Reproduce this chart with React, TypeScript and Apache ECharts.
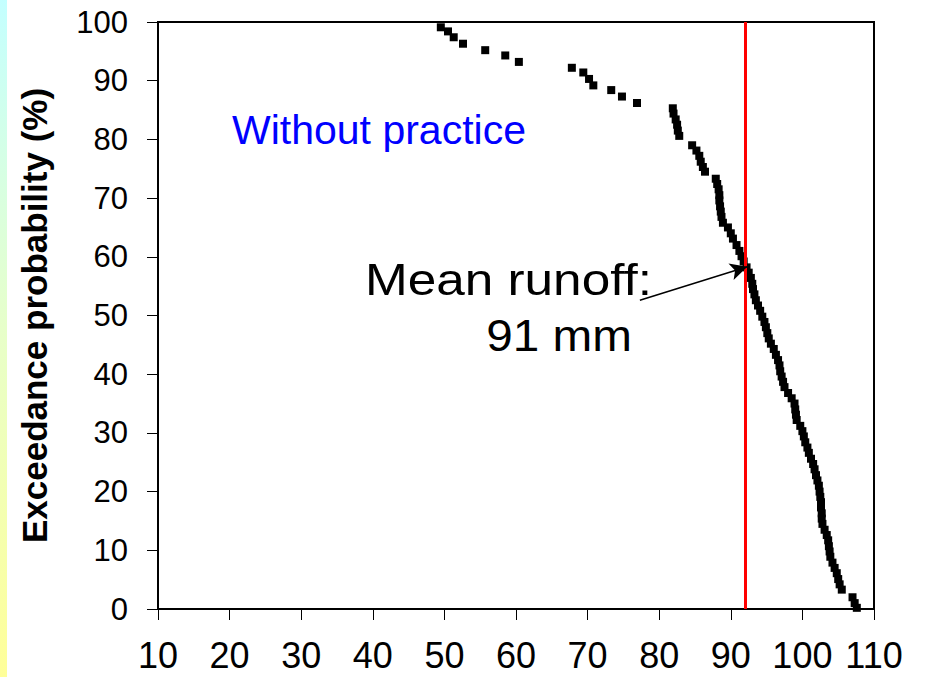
import React, { useEffect, useRef } from "react";
import * as echarts from "echarts";

const runoff: number[] = [
  49.5, 50.5, 51.3, 52.6, 55.7, 58.5, 60.4, 67.8, 69.4, 70.2, 70.8, 73.3, 74.8, 76.9, 81.9,
  82.0, 82.3, 82.5, 82.6, 82.8,
  84.6, 85.2, 85.6, 85.8, 86.1, 86.4,
  87.9, 88.1, 88.3, 88.4, 88.4, 88.5, 88.6, 88.7, 88.9,
  89.6, 90.0, 90.3,
  90.8, 91.2, 91.5, 91.8, 92.2,
  92.5, 92.8, 93.0, 93.1, 93.3, 93.5, 93.8,
  94.1, 94.4, 94.7, 94.9, 95.1, 95.3,
  95.6, 96.0, 96.3, 96.6,
  96.8, 96.9, 97.1, 97.3, 97.5,
  98.0, 98.5, 98.9,
  99.0, 99.1, 99.2,
  99.7, 100.0, 100.2, 100.4,
  100.7, 100.9, 101.2, 101.5, 101.7,
  101.9, 102.1, 102.3, 102.4, 102.5,
  102.6, 102.6, 102.7, 102.7, 102.8,
  103.1, 103.4, 103.6,
  103.7, 103.8, 103.9,
  104.2, 104.5, 104.8,
  105.0, 105.2, 105.5,
  107.0, 107.3, 107.6,
];

const exceedance: number[] = [
  99.1, 98.4, 97.4, 96.3, 95.2, 94.3, 93.2, 92.2, 91.4, 90.3, 89.2, 88.4, 87.3, 86.2, 85.3,
  84.4, 83.4, 82.5, 81.5, 80.6,
  79.0, 78.1, 77.2, 76.2, 75.3, 74.5,
  73.3, 72.4, 71.5, 70.5, 69.6, 68.6, 67.7, 66.8, 65.8,
  65.0, 64.0, 63.1,
  62.0, 61.0, 60.1, 59.2, 58.2,
  57.3, 56.4, 55.4, 54.5, 53.6, 52.6, 51.7,
  50.8, 49.8, 48.9, 48.0, 47.0, 46.1,
  45.2, 44.3, 43.3, 42.4,
  41.5, 40.5, 39.6, 38.7, 37.8,
  36.8, 35.9, 35.0,
  34.0, 33.1, 32.2,
  31.2, 30.3, 29.4, 28.4,
  27.5, 26.6, 25.6, 24.7, 23.8,
  22.8, 21.9, 21.0, 20.0, 19.1,
  18.2, 17.3, 16.3, 15.4, 14.5,
  13.5, 12.6, 11.7,
  10.7, 9.8, 8.9,
  7.9, 7.0, 6.1,
  5.1, 4.2, 3.3,
  2.0, 1.0, 0.2,
];

const meanLineX = 92;
const arrowStart: [number, number] = [77.3, 52.6];
const arrowEnd: [number, number] = [92.3, 58.3];

const yAxisTitle = "Exceedance probability (%)";
const scenarioLabel = "Without practice";
const meanLabel1 = "Mean runoff:";
const meanLabel2 = "91 mm";

const FONT = '"Liberation Sans", Arial, Helvetica, sans-serif';

export default function App() {
  const ref = useRef<HTMLDivElement>(null);

  useEffect(() => {
    if (!ref.current) return;
    const chart = echarts.init(ref.current, null, { renderer: "svg" });
    const points = runoff.map((x, i) => [x, exceedance[i]]);

    chart.setOption({
      animation: false,
      backgroundColor: "#ffffff",
      grid: {
        left: 158,
        right: 52,
        top: 22,
        bottom: 68,
        show: true,
        borderColor: "#000",
        borderWidth: 2,
        backgroundColor: "transparent",
      },
      xAxis: {
        type: "value",
        min: 10,
        max: 110,
        interval: 10,
        splitLine: { show: false },
        axisLine: { show: true, lineStyle: { color: "#000", width: 2 } },
        axisTick: { show: true, length: 11, lineStyle: { color: "#000", width: 1 } },
        axisLabel: { fontSize: 36, color: "#000", margin: 28, fontFamily: FONT },
      },
      yAxis: {
        type: "value",
        min: 0,
        max: 100,
        interval: 10,
        name: yAxisTitle,
        nameLocation: "middle",
        nameGap: 106,
        nameRotate: 90,
        nameTextStyle: { fontSize: 35, fontWeight: "bold", color: "#000", fontFamily: FONT },
        splitLine: { show: false },
        axisLine: { show: true, lineStyle: { color: "#000", width: 2 } },
        axisTick: { show: true, length: 11, lineStyle: { color: "#000", width: 1 } },
        axisLabel: { fontSize: 31, color: "#000", margin: 30, fontFamily: FONT },
      },
      series: [
        {
          type: "scatter",
          data: points,
          symbol: "rect",
          symbolSize: 8,
          itemStyle: { color: "#000", opacity: 1 },
          z: 3,
          markLine: {
            silent: true,
            symbol: "none",
            animation: false,
            label: { show: false },
            data: [
              { xAxis: meanLineX, lineStyle: { color: "#ff0000", width: 3, type: "solid" } },
              [
                { coord: arrowStart, symbol: "none", lineStyle: { color: "#000", width: 1.5, type: "solid" } },
                { coord: arrowEnd, symbol: "arrow", symbolSize: [13, 17] },
              ],
            ],
          },
        },
      ],
      graphic: [
        {
          type: "rect",
          left: 0,
          top: 0,
          shape: { x: 0, y: 0, width: 7, height: 677 },
          style: {
            fill: new echarts.graphic.LinearGradient(0, 0, 0, 1, [
              { offset: 0, color: "#c4ffff" },
              { offset: 0.5, color: "#e8ffc8" },
              { offset: 1, color: "#ffff99" },
            ]),
          },
          silent: true,
        },
        {
          type: "text",
          x: 232,
          y: 130,
          scaleX: 1.0,
          style: {
            text: scenarioLabel,
            fill: "#0000ff",
            fontSize: 41,
            fontFamily: FONT,
            textAlign: "left",
            textVerticalAlign: "middle",
          },
        },
        {
          type: "text",
          x: 652,
          y: 279,
          scaleX: 1.14,
          style: {
            text: meanLabel1,
            fill: "#000",
            fontSize: 45,
            fontFamily: FONT,
            textAlign: "right",
            textVerticalAlign: "middle",
          },
        },
        {
          type: "text",
          x: 632,
          y: 335,
          scaleX: 1.06,
          style: {
            text: meanLabel2,
            fill: "#000",
            fontSize: 45,
            fontFamily: FONT,
            textAlign: "right",
            textVerticalAlign: "middle",
          },
        },
      ],
    });

    return () => {
      chart.dispose();
    };
  }, []);

  return (
    <div
      ref={ref}
      style={{ position: "absolute", left: 0, top: 0, width: 926, height: 677 }}
    />
  );
}
